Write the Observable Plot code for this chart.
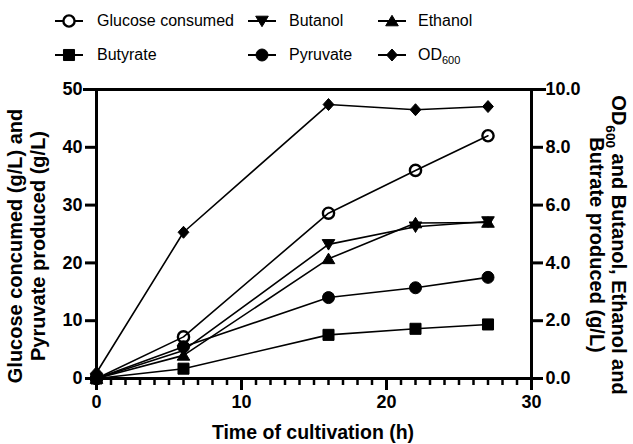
<!DOCTYPE html>
<html><head><meta charset="utf-8">
<script src="https://cdn.jsdelivr.net/npm/d3@7"></script>
<script src="https://cdn.jsdelivr.net/npm/@observablehq/plot@0.6"></script>
<style>
body{margin:0;background:#fff;font-family:"Liberation Sans",Arial,sans-serif;}
#wrap{position:relative;width:633px;height:444px;overflow:hidden;}
#legend{position:absolute;left:0;top:0;width:633px;height:72px;}
.item{position:absolute;font-size:16px;color:#000;height:20px;}
.item svg{position:absolute;left:0;top:0;}
.item span{position:absolute;top:0;line-height:20px;white-space:nowrap;}
#chart{position:absolute;left:0;top:72px;}
</style></head><body>
<div id="wrap"><div id="legend"></div><div id="chart"></div></div>
<script>
// ---- data ----
const time = [0, 6, 16, 22, 27];
const glucose  = [0, 7.2, 28.6, 36.0, 42.0];   // left axis (g/L)
const pyruvate = [0, 5.5, 14.0, 15.7, 17.5];   // left axis (g/L)
const butanol  = [0, 0.97, 4.64, 5.25, 5.43];  // right axis (g/L)
const ethanol  = [0, 0.80, 4.14, 5.38, 5.40];  // right axis (g/L)
const butyrate = [0, 0.34, 1.51, 1.72, 1.87];  // right axis (g/L)
const od600    = [0.2, 5.06, 9.48, 9.30, 9.41];// right axis
const leftTicks = [0, 10, 20, 30, 40, 50];
const rightTicks = [0, 2, 4, 6, 8, 10];
const xTicks = [0, 10, 20, 30];
const xMinorTicks = d3.range(0, 31, 1);
const rightToLeft = 5; // 10.0 on right axis == 50 on left axis

// ---- custom symbols ----
const rad = size => Math.sqrt(size / Math.PI);
const triDown = {draw(c, size){const r=rad(size); c.moveTo(0,r*0.95); c.lineTo(-r*1.05,-r*0.8); c.lineTo(r*1.05,-r*0.8); c.closePath();}};
const triUp = {draw(c, size){const r=rad(size); c.moveTo(0,-r*0.95); c.lineTo(-r*1.05,r*0.8); c.lineTo(r*1.05,r*0.8); c.closePath();}};
const diam = {draw(c, size){const r=rad(size); c.moveTo(0,-r); c.lineTo(r*0.9,0); c.lineTo(0,r); c.lineTo(-r*0.9,0); c.closePath();}};
const sq = {draw(c, size){const r=rad(size)*0.92; c.rect(-r,-r,2*r,2*r);}};
const circ = {draw(c, size){const r=rad(size); c.moveTo(r,0); c.arc(0,0,r,0,2*Math.PI);}};

const series = [
  {name:"Glucose consumed", html:"Glucose consumed", values:glucose, axis:"left", symbol:circ, open:true, r:5.6},
  {name:"Butanol", html:"Butanol", values:butanol, axis:"right", symbol:triDown, r:6},
  {name:"Ethanol", html:"Ethanol", values:ethanol, axis:"right", symbol:triUp, r:6},
  {name:"Butyrate", html:"Butyrate", values:butyrate, axis:"right", symbol:sq, r:6},
  {name:"Pyruvate", html:"Pyruvate", values:pyruvate, axis:"left", symbol:circ, r:6},
  {name:"OD600", html:"OD<sub style='font-size:11px'>600</sub>", values:od600, axis:"right", symbol:diam, r:6}
];

const rows = series.flatMap(s => time.map((t, i) => ({
  series: s.name, t, y: s.axis === "right" ? s.values[i] * rightToLeft : s.values[i]
})));

const font = "Liberation Sans, Arial, sans-serif";
const dotMarks = series.map(s => Plot.dot(rows.filter(d => d.series === s.name), {
  x: "t", y: "y", symbol: s.symbol, r: s.r,
  fill: s.open ? "none" : "black", stroke: "black", strokeWidth: s.open ? 2.4 : 1
}));

const chart = Plot.plot({
  width: 633, height: 372,
  marginTop: 17, marginBottom: 66, marginLeft: 96, marginRight: 102,
  style: {fontFamily: font, color: "black", background: "white"},
  x: {domain: [0, 30]},
  y: {domain: [0, 50]},
  marks: [
    Plot.line(rows, {x: "t", y: "y", z: "series", stroke: "black", strokeWidth: 1.6}),
    ...dotMarks,
    Plot.ruleX([0, 30], {stroke: "black", strokeWidth: 3}),
    Plot.ruleY([0], {stroke: "black", strokeWidth: 3}),
    Plot.ruleY([50], {stroke: "black", strokeWidth: 3, insetLeft: -13, insetRight: -15}),
    Plot.axisY(leftTicks, {anchor: "left", tickSize: 11, tickPadding: 3, fontSize: 18, fontWeight: "bold", strokeWidth: 3, label: null}),
    Plot.axisY(rightTicks.map(v => v * rightToLeft), {anchor: "right", tickSize: 11, tickPadding: 3, fontSize: 18, fontWeight: "bold", strokeWidth: 3, label: null, tickFormat: d => (d / rightToLeft).toFixed(1)}),
    Plot.axisX(xTicks, {anchor: "bottom", tickSize: 12, tickPadding: 5, fontSize: 18, fontWeight: "bold", strokeWidth: 3, label: null}),
    Plot.axisX(xMinorTicks, {anchor: "bottom", tickSize: 7, strokeWidth: 2.5, tickFormat: () => "", label: null})
  ]
});
document.getElementById("chart").appendChild(chart);

// ---- axis titles ----
const svg = d3.select(chart);
const off = 72;
const title = (x, y, rot, size, parts) => {
  const t = svg.append("text").attr("transform", `translate(${x},${y - off}) rotate(${rot})`)
    .attr("text-anchor", "middle").attr("dominant-baseline", "middle")
    .attr("font-family", font).attr("font-weight", "bold").attr("font-size", size).attr("fill", "black");
  parts.forEach(([txt, sub]) => {
    if (sub) t.append("tspan").text(txt).attr("baseline-shift", "sub").attr("font-size", size * 0.68);
    else t.append("tspan").text(txt);
  });
  return t;
};
title(313, 434, 0, 19.5, [["Time of cultivation (h)"]]);
title(17, 246, -90, 20, [["Glucose concumed (g/L) and"]]);
title(40, 246, -90, 20, [["Pyruvate produced (g/L)"]]);
title(617, 245, 90, 20, [["OD"], ["600", true], [" and Butanol, Ethanol and"]]);
title(595, 245, 90, 20, [["Butrate produced (g/L)"]]);

// ---- legend ----
const legend = document.getElementById("legend");
const pos = [[55, 97, 21], [248, 289, 21], [378, 418, 21], [55, 97, 55], [248, 289, 55], [378, 418, 55]];
series.forEach((s, i) => {
  const [sx, tx, cy] = pos[i];
  const div = document.createElement("div");
  div.className = "item";
  div.style.left = sx + "px"; div.style.top = (cy - 10) + "px";
  const ls = d3.create("svg").attr("width", 28).attr("height", 20);
  ls.append("line").attr("x1", 0).attr("x2", 28).attr("y1", 10).attr("y2", 10).attr("stroke", "black").attr("stroke-width", 2);
  ls.append("path").attr("d", d3.symbol(s.symbol, Math.PI * s.r * s.r)()).attr("transform", "translate(14,10)")
    .attr("fill", s.open ? "white" : "black").attr("stroke", "black").attr("stroke-width", s.open ? 2.4 : 1);
  div.appendChild(ls.node());
  const sp = document.createElement("span");
  sp.innerHTML = s.html;
  sp.style.left = (tx - sx) + "px";
  div.appendChild(sp);
  legend.appendChild(div);
});
</script>
</body></html>
